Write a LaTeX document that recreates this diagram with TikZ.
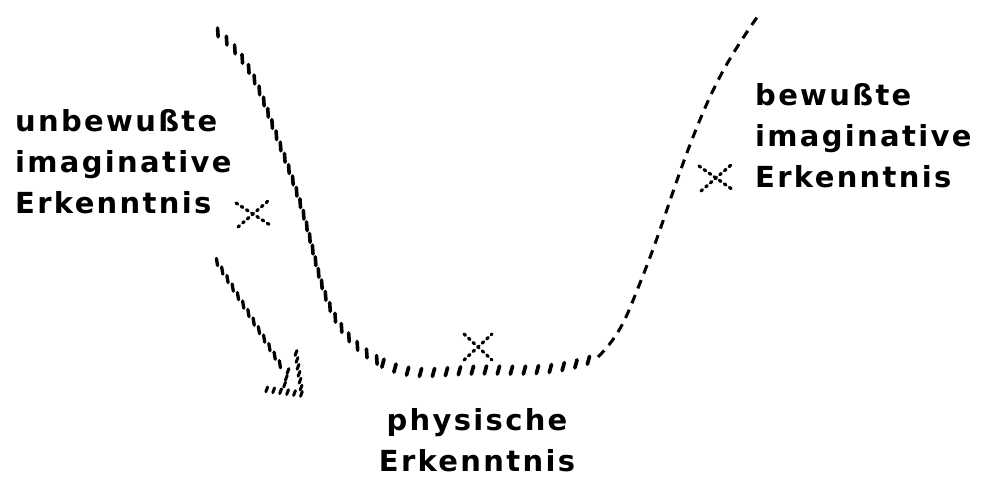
\documentclass[tikz,border=0pt]{standalone}
\usepackage{fontspec}
\newfontfamily\handfont[LetterSpace=8]{DejaVu Sans}
\usetikzlibrary{decorations.markings}
\tikzset{
  hatchleft/.style={decoration={markings,
      mark=between positions 0.01 and 1 step 12pt with {\pgftransformresetnontranslations
        \draw[line width=3.6pt, line cap=round] (-0.3pt,4.4pt) -- (0.3pt,-4.4pt);}},
    postaction={decorate}},
  hatchbottom/.style={decoration={markings,
      mark=between positions 0.03 and 1 step 13pt with {\pgftransformresetnontranslations
        \draw[line width=3.7pt, line cap=round] (-1.1pt,-4pt) -- (1.1pt,4pt);}},
    postaction={decorate}},
  shafthatch/.style={decoration={markings,
      mark=between positions 0 and 1 step 10pt with {\pgftransformresetnontranslations
        \draw[line width=3.3pt, line cap=round] (-0.6pt,3.6pt) -- (0.6pt,-3.6pt);}},
    postaction={decorate}},
  headhatch/.style={decoration={markings,
      mark=between positions 0 and 1 step 7pt with {\pgftransformresetnontranslations
        \draw[line width=3pt, line cap=round] (-0.9pt,-2.4pt) -- (0.9pt,2.4pt);}},
    postaction={decorate}},
  dashline/.style={line width=3pt, dash pattern=on 9pt off 7pt},
  xdots/.style={line width=3.2pt, line cap=round, dash pattern=on 2pt off 4.2pt},
  label/.style={inner sep=0pt, font=\handfont\bfseries\fontsize{29}{41}\selectfont},
}
\begin{document}
\begin{tikzpicture}[x=1pt,y=1pt]
\useasboundingbox (0,0) rectangle (1001,483);
% U-shaped curve: hatched left and bottom
\coordinate (c0) at (215,453);
\coordinate (c1) at (267,373);
\coordinate (c2) at (307,256);
\coordinate (c3) at (377,123);
\coordinate (c4) at (480,113);
\coordinate (c5) at (598,126);
\path[hatchleft] (c0) to[out=-40,in=110] (c1) to[out=-70,in=105] (c2)
  to[out=-75,in=150] (c3);
\path[hatchbottom] (c3) to[out=-30,in=180] (c4) to[out=0,in=200] (c5);
% dashed right side
\coordinate (d1) at (640,200);
\coordinate (d2) at (697,356);
\coordinate (d3) at (760,470);
\draw[dashline] (c5) to[out=45,in=-112] (d1) to[out=68,in=-112] (d2) to[out=68,in=-125] (d3);
% left arrow
\coordinate (as) at (217,221);
\coordinate (ae) at (281,117);
\coordinate (tip) at (302,89);
\coordinate (h1) at (296,130);
\coordinate (h2) at (264,94);
\coordinate (m1) at (288,112);
\coordinate (m2) at (284,96);
\path[shafthatch] (as) -- (ae);
\path[headhatch] (h1) -- (tip) -- (h2);
\path[headhatch] (m1) -- (m2);
% crosses
\coordinate (xl) at (253,269);
\coordinate (xc) at (478,136);
\coordinate (xr) at (716,305);
\draw[xdots] (xl) +(-17,11) -- +(17,-11) (xl) +(-15,-13) -- +(15,13);
\draw[xdots] (xc) +(-14,13) -- +(14,-13) (xc) +(-14,-13) -- +(14,13);
\draw[xdots] (xr) +(-17,12) -- +(17,-12) (xr) +(-15,-13) -- +(15,13);
% labels
\node[label, anchor=base west, align=left] (ul) at (15,270) {unbewußte\\imaginative\\Erkenntnis};
\node[label, anchor=base west, align=left] (bl) at (755,296) {bewußte\\imaginative\\Erkenntnis};
\node[label, anchor=base, align=center] (pl) at (477,12) {physische\\Erkenntnis};
\end{tikzpicture}
\end{document}
